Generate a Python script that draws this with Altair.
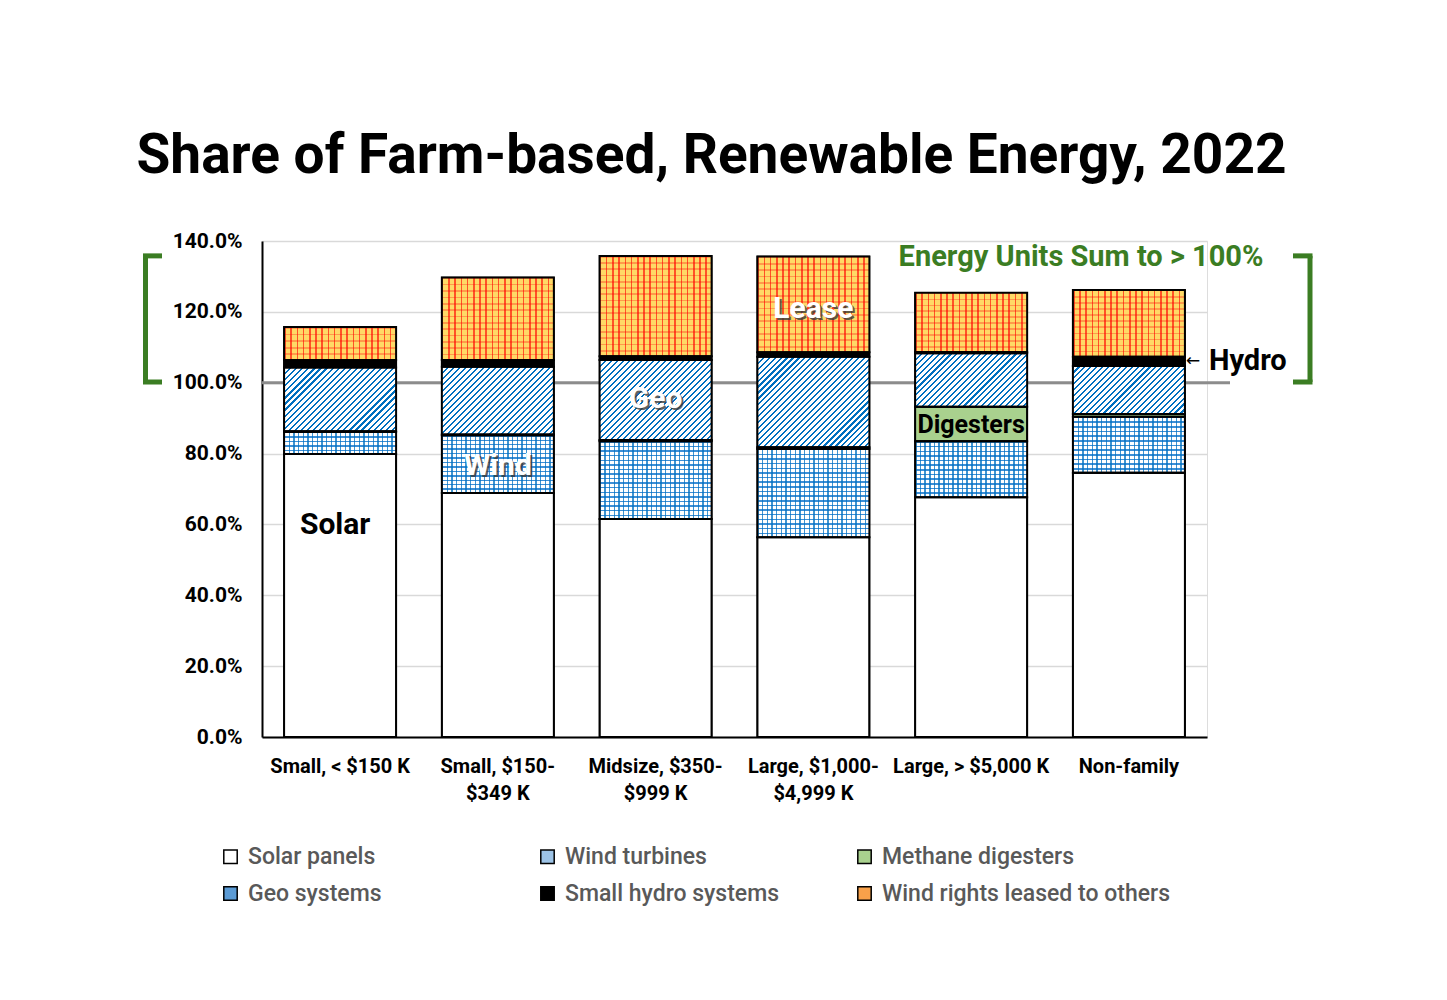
import altair as alt
import pandas as pd

# ---------------- data ----------------
categories = ["Small, < $150 K", "Small, $150-\n$349 K", "Midsize, $350-\n$999 K",
              "Large, $1,000-\n$4,999 K", "Large, > $5,000 K", "Non-family"]
series_names = ["Solar panels", "Wind turbines", "Methane digesters",
                "Geo systems", "Small hydro systems", "Wind rights leased to others"]
solar = [79.9, 68.9, 61.5, 56.4, 67.7, 74.6]
wind = [6.2, 16.3, 22.0, 24.9, 15.8, 15.8]
methane = [0.2, 0.2, 0.3, 0.5, 9.7, 0.8]
geo = [18.0, 19.1, 22.6, 25.5, 15.1, 13.5]
hydro = [2.1, 1.9, 1.1, 1.3, 0.4, 2.6]
lease = [9.3, 23.3, 28.3, 27.0, 16.7, 18.9]
y_ticks = [0, 20, 40, 60, 80, 100, 120, 140]

ann_text = ["Solar", "Wind", "Geo", "Lease", "Digesters"]
ann_cat = [categories[0], categories[1], categories[2], categories[3], categories[4]]
ann_y = [59.8, 76.5, 95.4, 120.8, 88.1]
ann_kind = ["dark", "light", "light", "light", "dark_small"]

hydro_label = "Hydro"
hydro_label_y = 106.1
note_text = "Energy Units Sum to > 100%"
note_y = 135.4
bracket_top = 135.8
bracket_bottom = 100.2
ref_value = 100

title_text = "Share of Farm-based, Renewable Energy, 2022"

# ---------------- layout ----------------
W, H = 945, 496
Y_MAX = 140
PX = H / Y_MAX
P_IN, P_OUT = 0.29, 0.14
STEP = W / (len(categories) - P_IN + 2 * P_OUT)
BW = STEP * (1 - P_IN)

solid_colors = ["#ffffff", "#9dc3e6", "#a9d18e", "#5b9bd5", "#000000", "#f8a14a"]

rows = []
values = [solar, wind, methane, geo, hydro, lease]
pid = 0
for ci, c in enumerate(categories):
    for si, s in enumerate(series_names):
        rows.append({"cat": c, "type": s, "v": values[si][ci], "order": si, "pid": pid})
        pid += 1
df = pd.DataFrame(rows)


def stripes(bg, fg, n, frac, x2, y2):
    n = max(1, int(n))
    stops = []
    for i in range(n):
        a = i / n
        b = (i + frac) / n
        e = (i + 1) / n
        stops += [{"offset": round(a, 5), "color": fg}, {"offset": round(b, 5), "color": fg},
                  {"offset": round(b, 5), "color": bg}, {"offset": round(min(e, 1), 5), "color": bg}]
    return {"gradient": "linear", "x1": 0, "y1": 0, "x2": x2, "y2": y2, "stops": stops}


def diag_grad(bg, fg, h, period, frac):
    r = max(h, 1) / BW
    k = (1 + r) / (1 + r * r)
    n = round((BW + h) / period)
    return stripes(bg, fg, n, frac, k, k * r)


def cond_fill(grads, default):
    return {"condition": [{"test": f"datum.pid == {p}", "value": g} for p, g in grads.items()],
            "value": default}


BLUE = "#0070C0"
TRANSPARENT = "rgba(255,255,255,0)"

geo_grads, wind_h_grads, lease_h_grads = {}, {}, {}
for r in rows:
    h = r["v"] * PX
    if r["type"] == "Geo systems":
        geo_grads[r["pid"]] = diag_grad("#ffffff", BLUE, h, 6.0, 0.36)
    elif r["type"] == "Wind turbines":
        wind_h_grads[r["pid"]] = stripes("#ffffff", "#3d8fd6", round(h / 4.6), 0.32, 0, 1)
    elif r["type"] == "Wind rights leased to others":
        lease_h_grads[r["pid"]] = stripes("#FFD966", "#ff9a4a", round(h / 6.2), 0.26, 0, 1)

wind_v_grad = stripes(TRANSPARENT, "rgba(0,112,192,0.75)", round(BW / 4.6), 0.3, 1, 0)
lease_v_grad = stripes(TRANSPARENT, "rgba(255,0,0,0.62)", round(BW / 6.2), 0.26, 1, 0)

# ---------------- encodings ----------------
X = alt.X("cat:N", sort=categories,
          scale=alt.Scale(paddingInner=P_IN, paddingOuter=P_OUT),
          axis=alt.Axis(title=None, labelAngle=0, labelExpr="split(datum.label, '\\n')",
                        labelFont="Roboto", labelFontSize=20, labelFontWeight="bold",
                        labelColor="black", labelPadding=19, labelLineHeight=27,
                        ticks=False, domainColor="black", domainWidth=2))
Y = alt.Y("y0:Q", scale=alt.Scale(domain=[0, Y_MAX], nice=False),
          axis=alt.Axis(title=None, values=y_ticks,
                        labelExpr="format(datum.value, '.1f') + '%'",
                        labelFont="Roboto", labelFontSize=21, labelFontWeight="bold",
                        labelColor="black", labelPadding=20, ticks=False,
                        grid=True, gridColor="#d9d9d9", gridWidth=1.3,
                        domainColor="black", domainWidth=2))

base = alt.Chart(df).transform_stack(
    stack="v", as_=["y0", "y1"], groupby=["cat"],
    sort=[alt.SortField("order", order="ascending")])

ref_line = alt.Chart(pd.DataFrame({"y": [ref_value]})).mark_rule(
    color="#8c8c8c", strokeWidth=3).encode(
    y=alt.Y("y:Q"), x=alt.value(0), x2=alt.value(W + 23))

solid = base.mark_bar(stroke="black", strokeWidth=1.5).encode(
    x=X, y=Y, y2="y1:Q",
    color=alt.Color("type:N", sort=series_names,
                    scale=alt.Scale(domain=series_names, range=solid_colors),
                    legend=alt.Legend(title=None, orient="none", legendX=-43, legendY=604,
                                      direction="horizontal", columns=3, gridAlign="all",
                                      columnPadding=-3, rowPadding=13,
                                      symbolType="square", symbolSize=180,
                                      symbolStrokeColor="black", symbolStrokeWidth=1.5,
                                      labelFont="Roboto", labelFontSize=23,
                                      labelFontWeight=500, labelColor="#595959",
                                      labelOffset=6, labelLimit=400)))

geo_layer = base.transform_filter(alt.datum.type == "Geo systems").mark_bar().encode(
    x=X, y=Y, y2="y1:Q", fill=cond_fill(geo_grads, "#5b9bd5"))
wind_h = base.transform_filter(alt.datum.type == "Wind turbines").mark_bar().encode(
    x=X, y=Y, y2="y1:Q", fill=cond_fill(wind_h_grads, "#9dc3e6"))
wind_v = base.transform_filter(alt.datum.type == "Wind turbines").mark_bar(fill=wind_v_grad).encode(
    x=X, y=Y, y2="y1:Q")
lease_h = base.transform_filter(alt.datum.type == "Wind rights leased to others").mark_bar().encode(
    x=X, y=Y, y2="y1:Q", fill=cond_fill(lease_h_grads, "#f8a14a"))
lease_v = base.transform_filter(alt.datum.type == "Wind rights leased to others").mark_bar(
    fill=lease_v_grad).encode(x=X, y=Y, y2="y1:Q")

outline = base.mark_bar(fillOpacity=0, stroke="black", strokeWidth=2).encode(
    x=X, y=Y, y2="y1:Q")

ann_df = pd.DataFrame({"cat": ann_cat, "y": ann_y, "t": ann_text, "kind": ann_kind})
ann = alt.Chart(ann_df)
AY = alt.Y("y:Q")
txt_dark = ann.transform_filter(alt.datum.kind == "dark").mark_text(
    font="Roboto", fontSize=30, fontWeight="bold", color="black", dx=-5).encode(
    x=X, y=AY, text="t:N")
txt_dark_small = ann.transform_filter(alt.datum.kind == "dark_small").mark_text(
    font="Roboto", fontSize=25, fontWeight="bold", color="black").encode(
    x=X, y=AY, text="t:N")
txt_shadow = ann.transform_filter(alt.datum.kind == "light").mark_text(
    font="Roboto", fontSize=30, fontWeight="bold", color="#3a3a3a", dx=2, dy=2, opacity=0.8).encode(
    x=X, y=AY, text="t:N")
txt_light = ann.transform_filter(alt.datum.kind == "light").mark_text(
    font="Roboto", fontSize=30, fontWeight="bold", color="white").encode(
    x=X, y=AY, text="t:N")

hyd_df = pd.DataFrame({"cat": [categories[5]], "y": [hydro_label_y], "t": [hydro_label]})
hyd_arrow = alt.Chart(hyd_df).mark_text(
    font="DejaVu Sans", fontSize=17, color="black", align="left", dx=BW / 2 + 1).encode(
    x=X, y=AY, text=alt.value("←"))
hyd_text = alt.Chart(hyd_df).mark_text(
    font="Roboto", fontSize=29, fontWeight="bold", color="black", align="left",
    dx=BW / 2 + 24).encode(x=X, y=AY, text="t:N")

GREEN = "#3B7D23"
note = alt.Chart(pd.DataFrame({"y": [note_y], "t": [note_text]})).mark_text(
    font="Roboto", fontSize=29, fontWeight="bold", color=GREEN).encode(
    x=alt.value(819), y=AY, text="t:N")

br_df = pd.DataFrame({"top": [bracket_top], "bot": [bracket_bottom]})
brk = alt.Chart(br_df)
br_layers = []
for xv, xa, xb in [(-116.5, -119, -100), (1048, 1031, 1050.5)]:
    br_layers.append(brk.mark_rule(color=GREEN, strokeWidth=5).encode(
        x=alt.value(xv), y=alt.Y("top:Q"), y2="bot:Q"))
    br_layers.append(brk.mark_rule(color=GREEN, strokeWidth=5).encode(
        x=alt.value(xa), x2=alt.value(xb), y=alt.Y("top:Q")))
    br_layers.append(brk.mark_rule(color=GREEN, strokeWidth=5).encode(
        x=alt.value(xa), x2=alt.value(xb), y=alt.Y("bot:Q")))

chart = alt.layer(
    ref_line, solid, geo_layer, wind_h, wind_v, lease_h, lease_v, outline,
    txt_dark, txt_dark_small, txt_shadow, txt_light, hyd_arrow, hyd_text, note, *br_layers
).properties(
    width=W, height=H,
    autosize=alt.AutoSizeParams(type="none"),
    padding={"left": 254, "top": 233, "right": 220, "bottom": 245},
    title=alt.TitleParams(title_text, font="Roboto", fontSize=55, fontWeight="bold",
                          color="black", anchor="middle", frame="group", dx=-23,
                          offset=45),
).configure_view(stroke=None).configure(background="white")

chart.save("out.html", embed_options={"renderer": "svg", "actions": False})
